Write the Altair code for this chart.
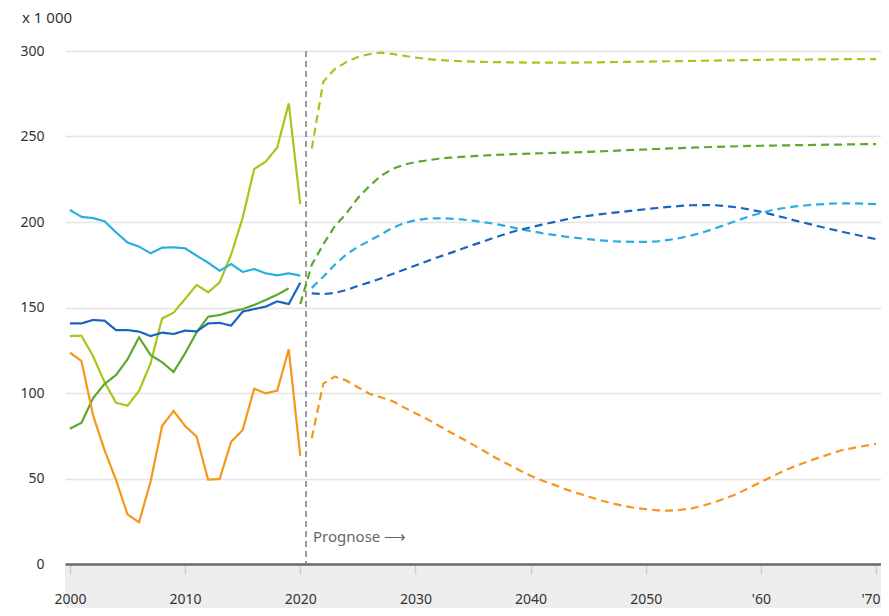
import altair as alt
import pandas as pd

FONT = "Noto Sans"

# ---------------- data ----------------
series_names = ["lichtgroen", "groen", "lichtblauw", "donkerblauw", "oranje"]
series_colors = ["#a3c81c", "#5ea72e", "#2aaee0", "#1a63c0", "#f6961b"]

hist_years = list(range(2000, 2021))
green_hist_years = list(range(2000, 2020))
fc_years = list(range(2021, 2071))
green_fc_years = list(range(2020, 2071))

lightgreen_hist = [133.3, 133.5, 121.6, 106.5, 94.3, 92.6, 101.2, 117.3, 143.6, 147.0,
                   155.0, 163.2, 158.9, 164.7, 181.0, 202.5, 231.0, 235.3, 243.6, 269.4, 210.5]
cyan_hist = [207.0, 203.0, 202.3, 200.4, 194.0, 188.0, 185.6, 181.7, 185.0, 185.2,
             184.6, 180.3, 176.2, 171.5, 175.4, 170.8, 172.5, 170.0, 168.8, 170.0, 168.6]
blue_hist = [140.7, 140.7, 142.7, 142.3, 136.8, 136.8, 135.9, 133.3, 135.3, 134.5,
             136.5, 136.0, 140.7, 141.0, 139.4, 147.6, 149.1, 150.5, 153.6, 152.0, 164.5]
green_hist = [79.1, 82.6, 96.9, 105.3, 110.5, 119.7, 132.6, 122.2, 118.0, 112.3,
              123.2, 135.5, 144.6, 145.6, 147.6, 149.1, 151.5, 154.4, 157.5, 161.2]
orange_hist = [123.6, 118.7, 87.1, 66.7, 49.1, 29.0, 24.4, 48.1, 80.7, 89.5,
               80.7, 74.5, 49.3, 49.7, 71.5, 78.4, 102.5, 99.8, 101.4, 125.5, 63.2]

lightgreen_fc = [243.0, 282.0, 289.5, 293.5, 296.5, 298.2, 299.0, 298.3, 297.2, 296.2,
                 295.3, 294.7, 294.3, 294.0, 293.8, 293.6, 293.5, 293.4, 293.3, 293.2,
                 293.2, 293.2, 293.2, 293.2, 293.3, 293.4, 293.5, 293.6, 293.7, 293.8,
                 293.9, 294.0, 294.1, 294.2, 294.3, 294.4, 294.5, 294.6, 294.7, 294.8,
                 294.9, 294.9, 295.0, 295.0, 295.1, 295.1, 295.2, 295.2, 295.3, 295.3]
green_fc = [152.0, 175.0, 187.0, 197.5, 205.0, 214.0, 221.0, 227.0, 231.0, 233.5, 235.0,
            236.0, 237.0, 237.6, 238.1, 238.5, 238.9, 239.2, 239.5, 239.8, 240.0,
            240.2, 240.4, 240.6, 240.8, 241.0, 241.3, 241.6, 241.9, 242.2, 242.4,
            242.7, 243.0, 243.2, 243.5, 243.7, 243.9, 244.1, 244.3, 244.5, 244.6,
            244.7, 244.8, 244.9, 245.0, 245.1, 245.2, 245.3, 245.4, 245.5, 245.5]
cyan_fc = [161.5, 168.0, 175.0, 181.0, 185.5, 189.0, 192.7, 196.5, 199.3, 201.0,
           202.0, 202.2, 202.0, 201.5, 200.8, 199.8, 198.8, 197.5, 196.0, 194.7,
           193.5, 192.5, 191.5, 190.7, 190.0, 189.3, 188.8, 188.5, 188.4, 188.4,
           188.7, 189.5, 190.7, 192.2, 194.0, 196.2, 198.6, 201.0, 203.3, 205.3,
           207.0, 208.2, 209.1, 209.8, 210.3, 210.7, 210.9, 210.9, 210.7, 210.5]
blue_fc = [158.3, 157.8, 158.5, 160.2, 162.6, 164.7, 167.0, 169.6, 172.1, 174.6,
           177.1, 179.5, 181.8, 184.2, 186.6, 188.8, 191.2, 193.4, 195.3, 196.9,
           198.5, 199.9, 201.4, 202.8, 203.6, 204.5, 205.3, 206.0, 206.8, 207.5,
           208.2, 208.8, 209.4, 209.8, 209.9, 209.8, 209.3, 208.5, 207.3, 206.0,
           204.3, 202.6, 200.8, 199.2, 197.5, 195.9, 194.4, 192.9, 191.4, 190.0]
orange_fc = [73.5, 105.5, 109.6, 107.3, 103.4, 99.6, 97.5, 95.3, 91.6, 88.2,
             84.8, 81.0, 77.2, 73.5, 69.8, 65.9, 62.0, 58.5, 55.0, 51.6,
             48.8, 46.4, 43.8, 41.6, 39.5, 37.3, 35.6, 34.1, 32.9, 32.1,
             31.4, 31.2, 31.6, 32.5, 34.2, 36.2, 38.6, 41.2, 44.6, 48.0,
             51.2, 54.5, 57.3, 59.7, 62.2, 64.3, 66.5, 67.8, 69.1, 70.2]

x_tick_values = [2000, 2010, 2020, 2030, 2040, 2050, 2060, 2070]
x_tick_labels = ["2000", "2010", "2020", "2030", "2040", "2050", "'60", "'70"]
y_tick_values = [0, 50, 100, 150, 200, 250, 300]
prognose_year = [2020.5]
prognose_label = ["Prognose \u27f6"]
unit_label = ["x 1 000"]

# ---------------- table ----------------
rows = []
def add(series, years, values, kind):
    for yr, v in zip(years, values):
        rows.append({"series": series, "year": yr, "value": v, "kind": kind})

add("lichtgroen", hist_years, lightgreen_hist, "hist")
add("groen", green_hist_years, green_hist, "hist")
add("lichtblauw", hist_years, cyan_hist, "hist")
add("donkerblauw", hist_years, blue_hist, "hist")
add("oranje", hist_years, orange_hist, "hist")
add("lichtgroen", fc_years, lightgreen_fc, "prog")
add("groen", green_fc_years, green_fc, "prog")
add("lichtblauw", fc_years, cyan_fc, "prog")
add("donkerblauw", fc_years, blue_fc, "prog")
add("oranje", fc_years, orange_fc, "prog")
df = pd.DataFrame(rows)

label_expr = ""
for v, l in zip(x_tick_values, x_tick_labels):
    label_expr += f"datum.value == {v} ? \"{l}\" : "
label_expr += "''"

W, H = 816, 513
x_scale = alt.Scale(domain=[1999.57, 2070.43], nice=False, zero=False)
y_scale = alt.Scale(domain=[0, 300], nice=False)

lines = alt.Chart(df).mark_line(strokeWidth=2.2).encode(
    x=alt.X("year:Q", scale=x_scale, axis=alt.Axis(
        values=x_tick_values, labelExpr=label_expr, title=None, grid=False,
        domainColor="#6b6b6b", domainWidth=2.5, tickColor="#cfcfcf", tickSize=10,
        tickWidth=1.5, labelPadding=18, labelFontSize=14, labelColor="#333333",
        labelFont=FONT, zindex=1,
        labelAlign={"condition": {"test": "datum.value >= 2070", "value": "right"}, "value": "center"},
        labelOffset={"condition": {"test": "datum.value >= 2070", "value": 4}, "value": 0},
    )),
    y=alt.Y("value:Q", scale=y_scale, axis=alt.Axis(
        values=y_tick_values, title=None, domain=False, ticks=False, labelPadding=21,
        gridColor="#e4e4e4", gridWidth=1.5, labelFontSize=14, labelColor="#333333",
        labelFont=FONT,
    )),
    color=alt.Color("series:N", scale=alt.Scale(domain=series_names, range=series_colors), legend=None),
    strokeDash=alt.StrokeDash("kind:N", scale=alt.Scale(domain=["hist", "prog"], range=[[1, 0], [8, 5]]), legend=None),
)

band = alt.Chart(pd.DataFrame({"a": [0]})).mark_rect(color="#eeeeee").encode(
    x=alt.value(0), x2=alt.value(W), y=alt.value(H + 1), y2=alt.value(H + 44)
)

pdf = pd.DataFrame({"x": prognose_year, "label": prognose_label})
rule = alt.Chart(pdf).mark_rule(color="#9a9a9a", strokeDash=[6, 4], strokeWidth=2).encode(
    x=alt.X("x:Q", scale=x_scale), y=alt.value(0), y2=alt.value(H)
)
ptext = alt.Chart(pdf).mark_text(align="left", baseline="middle", dx=7, fontSize=15,
                                 color="#666666", font=FONT).encode(
    x=alt.X("x:Q", scale=x_scale), y=alt.value(H - 27), text="label:N"
)
utext = alt.Chart(pd.DataFrame({"t": unit_label})).mark_text(
    align="left", baseline="middle", fontSize=15, color="#333333", font=FONT
).encode(x=alt.value(-43), y=alt.value(-33), text="t:N")

chart = alt.layer(band, rule, lines, ptext, utext).properties(
    width=W, height=H,
    padding={"left": 57, "top": 43, "right": 0, "bottom": 44},
    autosize=alt.AutoSizeParams(type="none"),
).configure_view(stroke=None)

chart.save("out.html", embed_options={"renderer": "svg", "actions": False})
